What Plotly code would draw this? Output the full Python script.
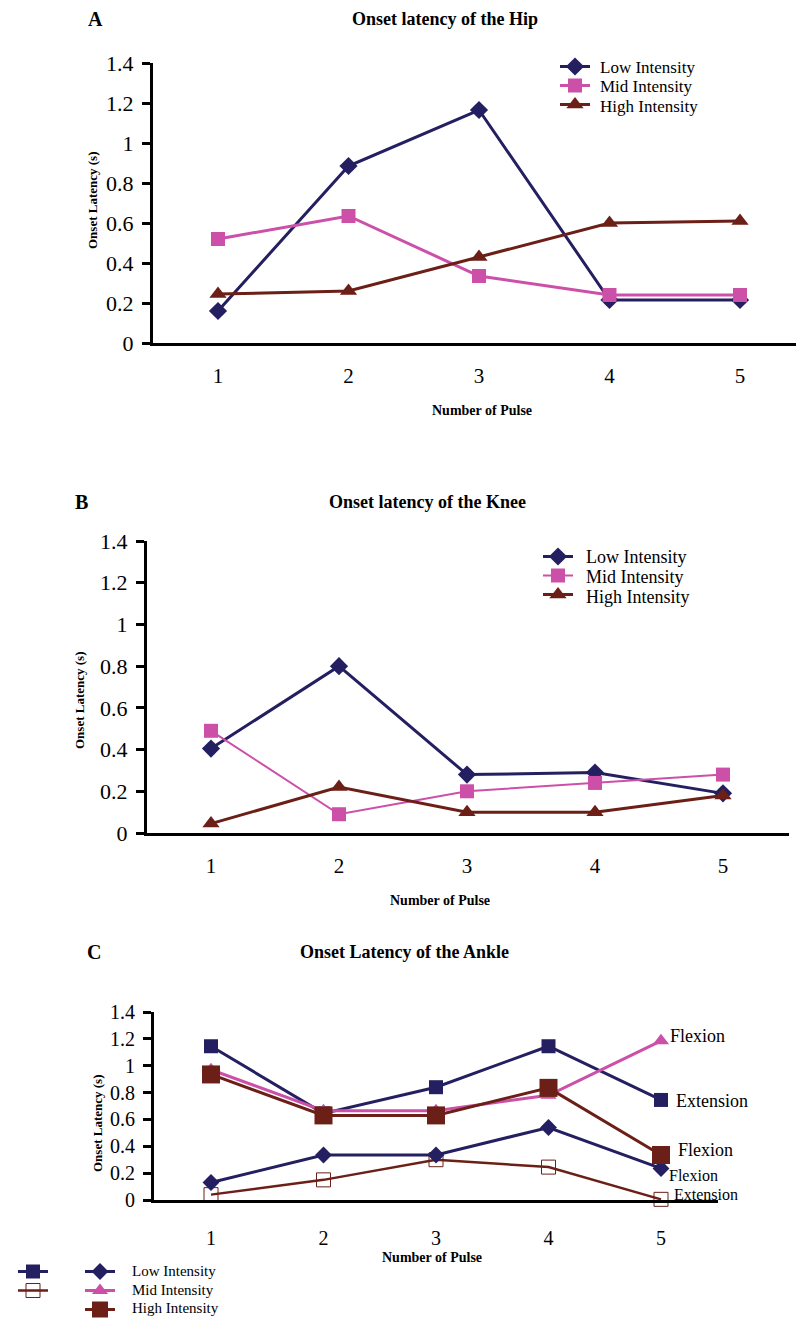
import plotly.graph_objects as go

W, H = 796, 1319

# ---------------- data ----------------
pulses = [1, 2, 3, 4, 5]
ytick_vals = [0, 0.2, 0.4, 0.6, 0.8, 1.0, 1.2, 1.4]
ytick_text = ["0", "0.2", "0.4", "0.6", "0.8", "1", "1.2", "1.4"]

hip_low = [0.16, 0.885, 1.165, 0.215, 0.215]
hip_mid = [0.52, 0.635, 0.335, 0.24, 0.24]
hip_high = [0.245, 0.26, 0.43, 0.60, 0.61]

knee_low = [0.405, 0.80, 0.28, 0.29, 0.19]
knee_mid = [0.49, 0.09, 0.20, 0.24, 0.28]
knee_high = [0.045, 0.22, 0.10, 0.10, 0.18]

ankle_low_ext = [1.145, 0.645, 0.84, 1.145, 0.745]
ankle_low_flex = [0.13, 0.335, 0.335, 0.54, 0.235]
ankle_mid_flex = [0.97, 0.665, 0.665, 0.78, 1.185]
ankle_high_flex = [0.935, 0.63, 0.63, 0.835, 0.335]
ankle_high_ext = [0.04, 0.15, 0.30, 0.245, 0.005]

series_names = ["Low Intensity", "Mid Intensity", "High Intensity"]

NAVY = "#241f60"
MAGENTA = "#cc4fa8"
BROWN = "#6b1f16"
SERIF = "Liberation Serif"


def px(p):
    return p / W


def py(p):
    return 1 - p / H


def xrange_for(left, right, x1, step):
    return [1 + (left - x1) / step, 1 + (right - x1) / step]


fig = go.Figure()


def add(x, y, xa, ya, color, symbol, size, width, legend, fill=True, lg=None):
    fig.add_trace(go.Scatter(
        x=x, y=y, xaxis=xa, yaxis=ya, mode="lines+markers",
        line=dict(color=color, width=width),
        marker=dict(symbol=symbol, size=size, color=color if fill else "white",
                    line=dict(color=color, width=1.5 if not fill else 0)),
        name=" ", legend=legend, legendgroup=lg, cliponaxis=False,
        showlegend=True))


# Panel A
add(pulses, hip_low, "x", "y", NAVY, "diamond", 14, 3, "legend")
add(pulses, hip_mid, "x", "y", MAGENTA, "square", 14, 3, "legend")
add(pulses, hip_high, "x", "y", BROWN, "triangle-up", 15, 3, "legend")
# Panel B
add(pulses, knee_low, "x2", "y2", NAVY, "diamond", 14, 3, "legend2")
add(pulses, knee_mid, "x2", "y2", MAGENTA, "square", 14, 2, "legend2")
add(pulses, knee_high, "x2", "y2", BROWN, "triangle-up", 15, 3, "legend2")
# Panel C
add(pulses, ankle_low_ext, "x3", "y3", NAVY, "square", 14, 3, "legend3", lg="a")
add(pulses, ankle_high_ext, "x3", "y3", BROWN, "square-open", 14, 2.5, "legend3", fill=True, lg="b")
add(pulses, ankle_low_flex, "x3", "y3", NAVY, "diamond", 13, 3, "legend4")
add(pulses, ankle_mid_flex, "x3", "y3", MAGENTA, "triangle-up", 14, 3, "legend4")
add(pulses, ankle_high_flex, "x3", "y3", BROWN, "square", 18, 3, "legend4")


def xaxis(dom, rng, anchor, font, standoff):
    return dict(domain=dom, range=rng, anchor=anchor, showline=True, linecolor="black",
                linewidth=3, ticks="", tickvals=pulses, showgrid=False, zeroline=False,
                tickfont=dict(family=SERIF, size=font, color="black"),
                ticklabelstandoff=standoff, fixedrange=True)


def yaxis(dom, anchor, font):
    return dict(domain=dom, range=[0, 1.4], anchor=anchor, showline=True, linecolor="black",
                linewidth=3, ticks="outside", ticklen=8, tickwidth=3, tickcolor="black",
                tickvals=ytick_vals, ticktext=ytick_text, showgrid=False, zeroline=False,
                tickfont=dict(family=SERIF, size=font, color="black"),
                ticklabelstandoff=4, fixedrange=True)


annotations = []


def ann(text, x, y, size, bold=False, angle=0, xanchor="center"):
    annotations.append(dict(
        text=f"<b>{text}</b>" if bold else text, x=px(x), y=py(y), xref="paper", yref="paper",
        showarrow=False, textangle=angle, xanchor=xanchor, yanchor="middle",
        font=dict(family=SERIF, size=size, color="black")))


# Panel labels and titles
ann("A", 95, 19, 20, bold=True)
ann("Onset latency of the Hip", 445, 19, 18, bold=True)
ann("B", 81, 502, 20, bold=True)
ann("Onset latency of the Knee", 427, 502, 18, bold=True)
ann("C", 94, 952, 20, bold=True)
ann("Onset Latency of the Ankle", 405, 952, 18, bold=True)

# axis titles
ann("Number of Pulse", 482, 410, 14, bold=True)
ann("Number of Pulse", 440, 900, 14, bold=True)
ann("Number of Pulse", 432, 1257, 14, bold=True)
ann("Onset Latency (s)", 92, 200, 13, bold=True, angle=-90)
ann("Onset Latency (s)", 79, 700, 13, bold=True, angle=-90)
ann("Onset Latency (s)", 97, 1123, 13, bold=True, angle=-90)

# legend texts
for i, name in enumerate(series_names):
    ann(name, 598, 67 + 20 * i, 17, xanchor="left")
    ann(name, 584, 557 + 20 * i, 18, xanchor="left")
for i, name in enumerate(series_names):
    ann(name, 130, 1271 + 18.5 * i, 15, xanchor="left")

# end-point labels in panel C
end_labels = [
    ("Flexion", ankle_mid_flex, 7, 5, 18),
    ("Extension", ankle_low_ext, 13, -1, 18),
    ("Flexion", ankle_high_flex, 15, 5, 18),
    ("Flexion", ankle_low_flex, 6, -7, 16),
    ("Extension", ankle_high_ext, 11, 5, 16),
]
for text, series, xs, ys, fs in end_labels:
    annotations.append(dict(
        text=text, x=pulses[-1], y=series[-1], xref="x3", yref="y3", showarrow=False,
        xanchor="left", yanchor="middle", xshift=xs, yshift=ys,
        font=dict(family=SERIF, size=fs, color="black")))


def legend(x, y):
    return dict(x=px(x), y=py(y), xanchor="left", yanchor="top", bgcolor="rgba(0,0,0,0)",
                borderwidth=0, font=dict(family=SERIF, size=10, color="black"),
                tracegroupgap=0, traceorder="normal")


fig.update_layout(
    width=W, height=H,
    margin=dict(l=0, r=0, t=0, b=0, autoexpand=False),
    paper_bgcolor="white", plot_bgcolor="white",
    showlegend=True,
    xaxis=xaxis([px(153), px(796)], xrange_for(153, 796, 218, 130.5), "y", 21, 12),
    yaxis=yaxis([py(343), py(63)], "x", 22),
    xaxis2=xaxis([px(147), px(789)], xrange_for(147, 789, 211, 128), "y2", 21, 12),
    yaxis2=yaxis([py(833), py(541)], "x2", 22),
    xaxis3=xaxis([px(154), px(718)], xrange_for(154, 718, 211, 112.5), "y3", 20, 18),
    yaxis3=yaxis([py(1200), py(1012)], "x3", 20),
    legend=legend(555, 52),
    legend2=legend(538, 542),
    legend3=legend(13, 1257),
    legend4=legend(80, 1257),
    annotations=annotations,
)
fig.update_layout(legend3=dict(traceorder="grouped", tracegroupgap=0))

fig.write_html("out.html")
